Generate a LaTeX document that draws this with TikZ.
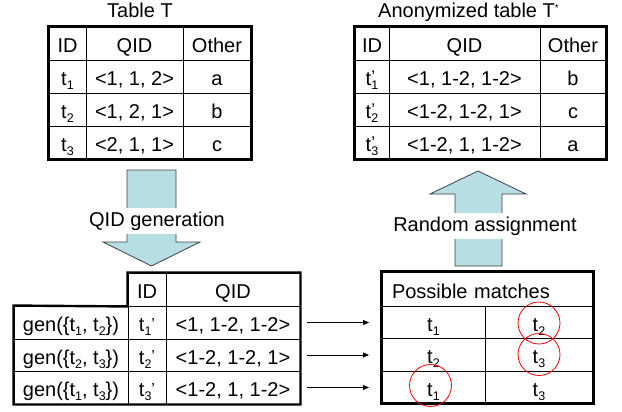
\documentclass[tikz,border=0pt]{standalone}
\usepackage{fontspec}
\setmainfont{Liberation Sans}
\usetikzlibrary{arrows.meta}
\definecolor{arrowfill}{RGB}{183,222,227}
\newcommand\tsb[1]{\raisebox{-0.22em}{\fontsize{12.5}{13}\selectfont #1}}
\newcommand\tpr[1]{\rlap{\raisebox{2.5pt}{\fontsize{17}{17}\selectfont ’}}\tsb{#1}}
\newcommand\apos{\raisebox{2.5pt}{\fontsize{16}{16}\selectfont ’}}
\newcommand\mycell[7][]{\node[cell, minimum width={(#5-#3)*1pt}, minimum height={(#6-#4)*1pt}, #1] (#2) at ({(#3+#5)/2},{(#4+#6)/2}) {#7};}
\begin{document}
\begin{tikzpicture}[x=1pt,y=-1pt,
  every node/.append style={font=\fontsize{20}{24}\selectfont},
  cell/.style={draw, line width=0.9pt, inner sep=0pt, text height=18pt, text depth=0pt, anchor=center},
  outer/.style={line width=2.4pt, line join=miter},
  blockarrow/.style={draw=black!75, line width=0.8pt, fill=arrowfill, line join=miter},
  lbl/.style={fill=white, inner xsep=1pt, inner ysep=3.5pt, text height=14.5pt, text depth=4.2pt, anchor=base},
  title/.style={anchor=base, inner sep=0pt},
  conn/.style={-{Triangle[length=6pt,width=5pt]}, line width=0.8pt, shorten <=6.5pt, shorten >=12.5pt},
  pick/.style={circle, draw=red, line width=0.8pt, minimum size=42pt, inner sep=0pt}]
\useasboundingbox (0,0) rectangle (622,412);

% titles
\node[title] (ttl1) at (140,17.5) {Table T};
\node[title] (ttl2) at (468.5,17.5) {Anonymized table T\raisebox{6pt}{\fontsize{10}{10}\selectfont *}};

% Table T
\mycell{a00}{49}{27}{86}{60}{ID}
\mycell{a01}{86}{27}{183}{60}{QID}
\mycell{a02}{183}{27}{251}{60}{Other}
\mycell{a10}{49}{60}{86}{93}{t\tsb{1}}
\mycell{a11}{86}{60}{183}{93}{<1, 1, 2>}
\mycell{a12}{183}{60}{251}{93}{a}
\mycell{a20}{49}{93}{86}{126}{t\tsb{2}}
\mycell{a21}{86}{93}{183}{126}{<1, 2, 1>}
\mycell{a22}{183}{93}{251}{126}{b}
\mycell{a30}{49}{126}{86}{159}{t\tsb{3}}
\mycell{a31}{86}{126}{183}{159}{<2, 1, 1>}
\mycell{a32}{183}{126}{251}{159}{c}
\draw[outer] (a00.north west) rectangle (a32.south east);

% Table T*
\mycell{b00}{355}{27}{389}{60}{ID}
\mycell{b01}{389}{27}{540}{60}{QID}
\mycell{b02}{540}{27}{606}{60}{Other}
\mycell{b10}{355}{60}{389}{93}{t\tpr{1}}
\mycell{b11}{389}{60}{540}{93}{<1, 1-2, 1-2>}
\mycell{b12}{540}{60}{606}{93}{b}
\mycell{b20}{355}{93}{389}{126}{t\tpr{2}}
\mycell{b21}{389}{93}{540}{126}{<1-2, 1-2, 1>}
\mycell{b22}{540}{93}{606}{126}{c}
\mycell{b30}{355}{126}{389}{159}{t\tpr{3}}
\mycell{b31}{389}{126}{540}{159}{<1-2, 1, 1-2>}
\mycell{b32}{540}{126}{606}{159}{a}
\draw[outer] (b00.north west) rectangle (b32.south east);

% block arrows
\draw[blockarrow] (127,170) -- (176,170) -- (176,242) -- (200,242) -- (151.5,266) -- (103,242) -- (127,242) -- cycle;
\node[lbl] (gentext) at (157,226) {QID generation};
\draw[blockarrow] (455,266) -- (502,266) -- (502,194) -- (526,194) -- (478,171) -- (430,194) -- (455,194) -- cycle;
\node[lbl] (randtext) at (485,231) {Random assignment};

% generated table
\mycell{c00}{128}{273}{166}{306}{ID}
\mycell{c01}{166}{273}{300}{306}{QID}
\mycell{g1}{14}{306}{128}{339}{gen(\{t\tsb{1}, t\tsb{2}\})}
\mycell{c11}{128}{306}{166}{339}{t\tsb{1}\apos}
\mycell{c12}{166}{306}{300}{339}{<1, 1-2, 1-2>}
\mycell{g2}{14}{339}{128}{371}{gen(\{t\tsb{2}, t\tsb{3}\})}
\mycell{c21}{128}{339}{166}{371}{t\tsb{2}\apos}
\mycell{c22}{166}{339}{300}{371}{<1-2, 1-2, 1>}
\mycell{g3}{14}{371}{128}{404}{gen(\{t\tsb{1}, t\tsb{3}\})}
\mycell{c31}{128}{371}{166}{404}{t\tsb{3}\apos}
\mycell{c32}{166}{371}{300}{404}{<1-2, 1, 1-2>}
\draw[outer] (g1.north west) -- (c00.south west) -- (c00.north west) -- (c01.north east) -- (c32.south east) -- (g3.south west) -- cycle;

% possible matches
\mycell[text width=191pt, align=left]{d0}{382}{272}{593}{306}{Possible matches}
\mycell{d11}{382}{306}{485}{338}{t\tsb{1}}
\mycell{d12}{485}{306}{593}{338}{t\tsb{2}}
\mycell{d21}{382}{338}{485}{371}{t\tsb{2}}
\mycell{d22}{485}{338}{593}{371}{t\tsb{3}}
\mycell{d31}{382}{371}{485}{403}{t\tsb{1}}
\mycell{d32}{485}{371}{593}{403}{t\tsb{3}}
\draw[outer] (d0.north west) rectangle (d32.south east);

% connectors
\draw[conn] (c12.east) -- (c12.east -| d11.west);
\draw[conn] (c22.east) -- (c22.east -| d21.west);
\draw[conn] (c32.east) -- (c32.east -| d31.west);

% red circles
\node[pick] (r1) at ([yshift=-1pt]d12.center) {};
\node[pick] (r2) at (d22.center) {};
\node[pick] (r3) at ([xshift=-3pt,yshift=1.5pt]d31.center) {};
\end{tikzpicture}
\end{document}
